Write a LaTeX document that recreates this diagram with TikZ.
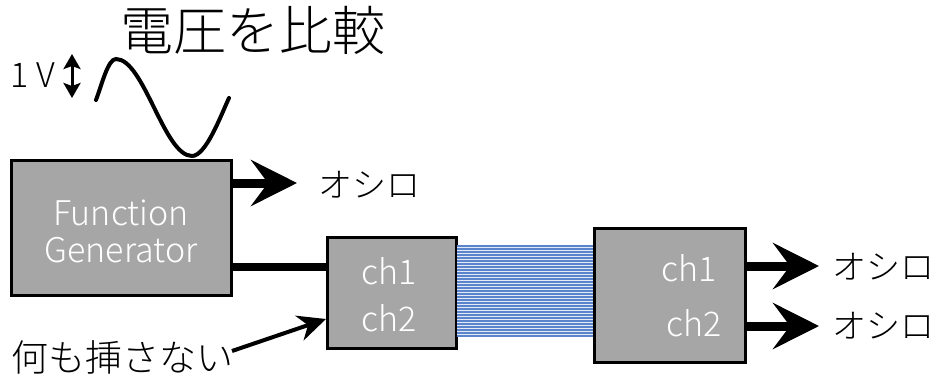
\documentclass[tikz,border=0pt]{standalone}
\usepackage{fontspec}
\setmainfont{Noto Sans CJK JP Light}
\usetikzlibrary{arrows.meta}
\definecolor{boxgray}{HTML}{A6A6A6}
\definecolor{ribbonbg}{HTML}{E4EAF5}
\definecolor{ribbonln}{HTML}{5A84CC}
\tikzset{
  devbox/.style={draw=black, line width=3pt, fill=boxgray, inner sep=0pt},
  wtext/.style={text=white, font=\fontsize{34}{36}\selectfont, inner sep=0pt},
  jlabel/.style={font=\fontsize{34}{36}\selectfont, inner sep=0pt, anchor=west},
  bigarrow/.style={line width=9pt, -{Stealth[length=46pt,width=46pt,inset=17pt]}},
  cable/.style={line width=8pt},
  thinarrow/.style={line width=4pt, -{Stealth[length=28pt,width=26pt,inset=9pt]}},
}
\begin{document}
\begin{tikzpicture}[x=1pt,y=-1pt]
\useasboundingbox (0,0) rectangle (944,384);
% title
\node[font=\fontsize{53}{56}\selectfont, inner sep=0pt] (title) at (253,30) {電圧を比較};
% 1V
\node[font=\fontsize{34}{36}\selectfont, inner sep=0pt] (volt) at (33,75) {1 V};
\coordinate (va) at (72,54);
\coordinate (vb) at (72,98);
\draw[line width=3pt, {Stealth[length=15pt,width=17pt,inset=3pt]}-{Stealth[length=15pt,width=17pt,inset=3pt]}] (va) -- (vb);
% sine wave
\draw[line width=4pt, line cap=round]
  (96,100) .. controls (102,84) and (108,59) .. (116,59)
  .. controls (144,59) and (164,156) .. (192,156)
  .. controls (206,156) and (221,115) .. (229,98);
% boxes
\node[devbox, minimum width=220pt, minimum height=135pt] (fg) at (121,227.5) {};
\node[wtext] (fgt1) at (121,213) {Function};
\node[wtext] (fgt2) at (121,250) {Generator};
\node[devbox, minimum width=129pt, minimum height=111pt] (b2) at (391.5,292.5) {};
\node[wtext] (b2c1) at (389,271) {ch1};
\node[wtext] (b2c2) at (389,318) {ch2};
% ribbon cable
\fill[ribbonbg] (457,245) rectangle (594,337);
\foreach \i in {0,...,30} {
  \draw[ribbonln, line width=1.4pt] (457,{246+3*\i}) -- (594,{246+3*\i});
}
\node[devbox, minimum width=151pt, minimum height=134pt] (b3) at (669.5,295) {};
\node[wtext, anchor=east] (b3c1) at (717,268) {ch1};
\node[wtext, anchor=east] (b3c2) at (722,323) {ch2};
% connectors
\coordinate (o1) at (297,183);
\draw[bigarrow] (fg.east |- o1) -- (o1);
\node[jlabel] (l1) at (318,185) {オシロ};
\coordinate (c1) at (0,267);
\draw[cable] (fg.east |- c1) -- (b2.west |- c1);
\coordinate (o2) at (819,266);
\coordinate (o3) at (819,326);
\draw[bigarrow] (b3.east |- o2) -- (o2);
\draw[bigarrow] (b3.east |- o3) -- (o3);
\node[jlabel] (l2) at (832,267) {オシロ};
\node[jlabel] (l3) at (832,326) {オシロ};
% nothing inserted
\node[font=\fontsize{37}{39}\selectfont, inner sep=0pt, anchor=west] (none) at (11,357) {何も挿さない};
\coordinate (na) at (232,351);
\coordinate (nb) at (326,319);
\draw[thinarrow] (na) -- (nb);
\end{tikzpicture}
\end{document}
